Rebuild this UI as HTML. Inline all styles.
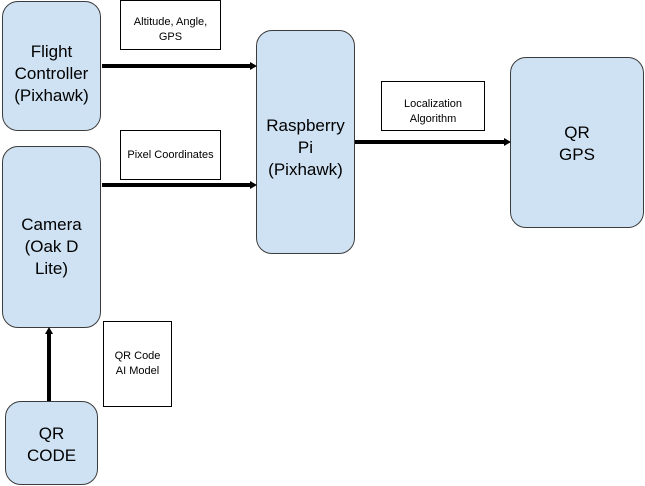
<!DOCTYPE html>
<html><head><style>
body{margin:0;width:645px;height:486px;background:#fff;position:relative;font-family:"Liberation Sans",Arial,sans-serif;overflow:hidden}
.n{position:absolute;background:#cfe2f3;border:1px solid #3c3c3c;border-radius:16px;box-sizing:border-box;display:flex;align-items:center;justify-content:center;text-align:center;font-size:17px;line-height:22px;color:#000}
.l{position:absolute;background:#fff;border:1px solid #000;box-sizing:border-box;display:flex;align-items:center;justify-content:center;text-align:center;font-size:11px;line-height:15px;color:#000}
svg{position:absolute;left:0;top:0}
</style></head><body>
<div class="n" style="left:2px;top:1px;width:99px;height:130px;padding-top:16px">Flight<br>Controller<br>(Pixhawk)</div>
<div class="n" style="left:2px;top:146px;width:99px;height:182px;padding-top:20px">Camera<br>(Oak D<br>Lite)</div>
<div class="n" style="left:5px;top:401px;width:93px;height:84px;padding-top:4px">QR<br>CODE</div>
<div class="n" style="left:256px;top:30px;width:99px;height:224px;padding-top:12px">Raspberry<br>Pi<br>(Pixhawk)</div>
<div class="n" style="left:510px;top:57px;width:134px;height:171px;padding-top:2px">QR<br>GPS</div>
<div class="l" style="left:120px;top:0px;width:101px;height:50px;padding-top:10px">Altitude, Angle,<br>GPS</div>
<div class="l" style="left:120px;top:130px;width:101px;height:50px">Pixel Coordinates</div>
<div class="l" style="left:381px;top:81px;width:104px;height:50px;padding-top:12px">Localization<br>Algorithm</div>
<div class="l" style="left:103px;top:321px;width:69px;height:86px">QR Code<br>AI Model</div>
<svg width="645" height="486">
<g stroke="#000" stroke-width="4">
<line x1="102" y1="66" x2="252" y2="66"/>
<line x1="102" y1="185" x2="252" y2="185"/>
<line x1="355" y1="142" x2="506" y2="142"/>
<line x1="49" y1="401" x2="49" y2="332"/>
</g>
<g fill="#000">
<polygon points="250,62 257,66 250,70"/>
<polygon points="250,181 257,185 250,189"/>
<polygon points="504,138 511,142 504,146"/>
<polygon points="45,334 49,327 53,334"/>
</g>
</svg>
</body></html>
